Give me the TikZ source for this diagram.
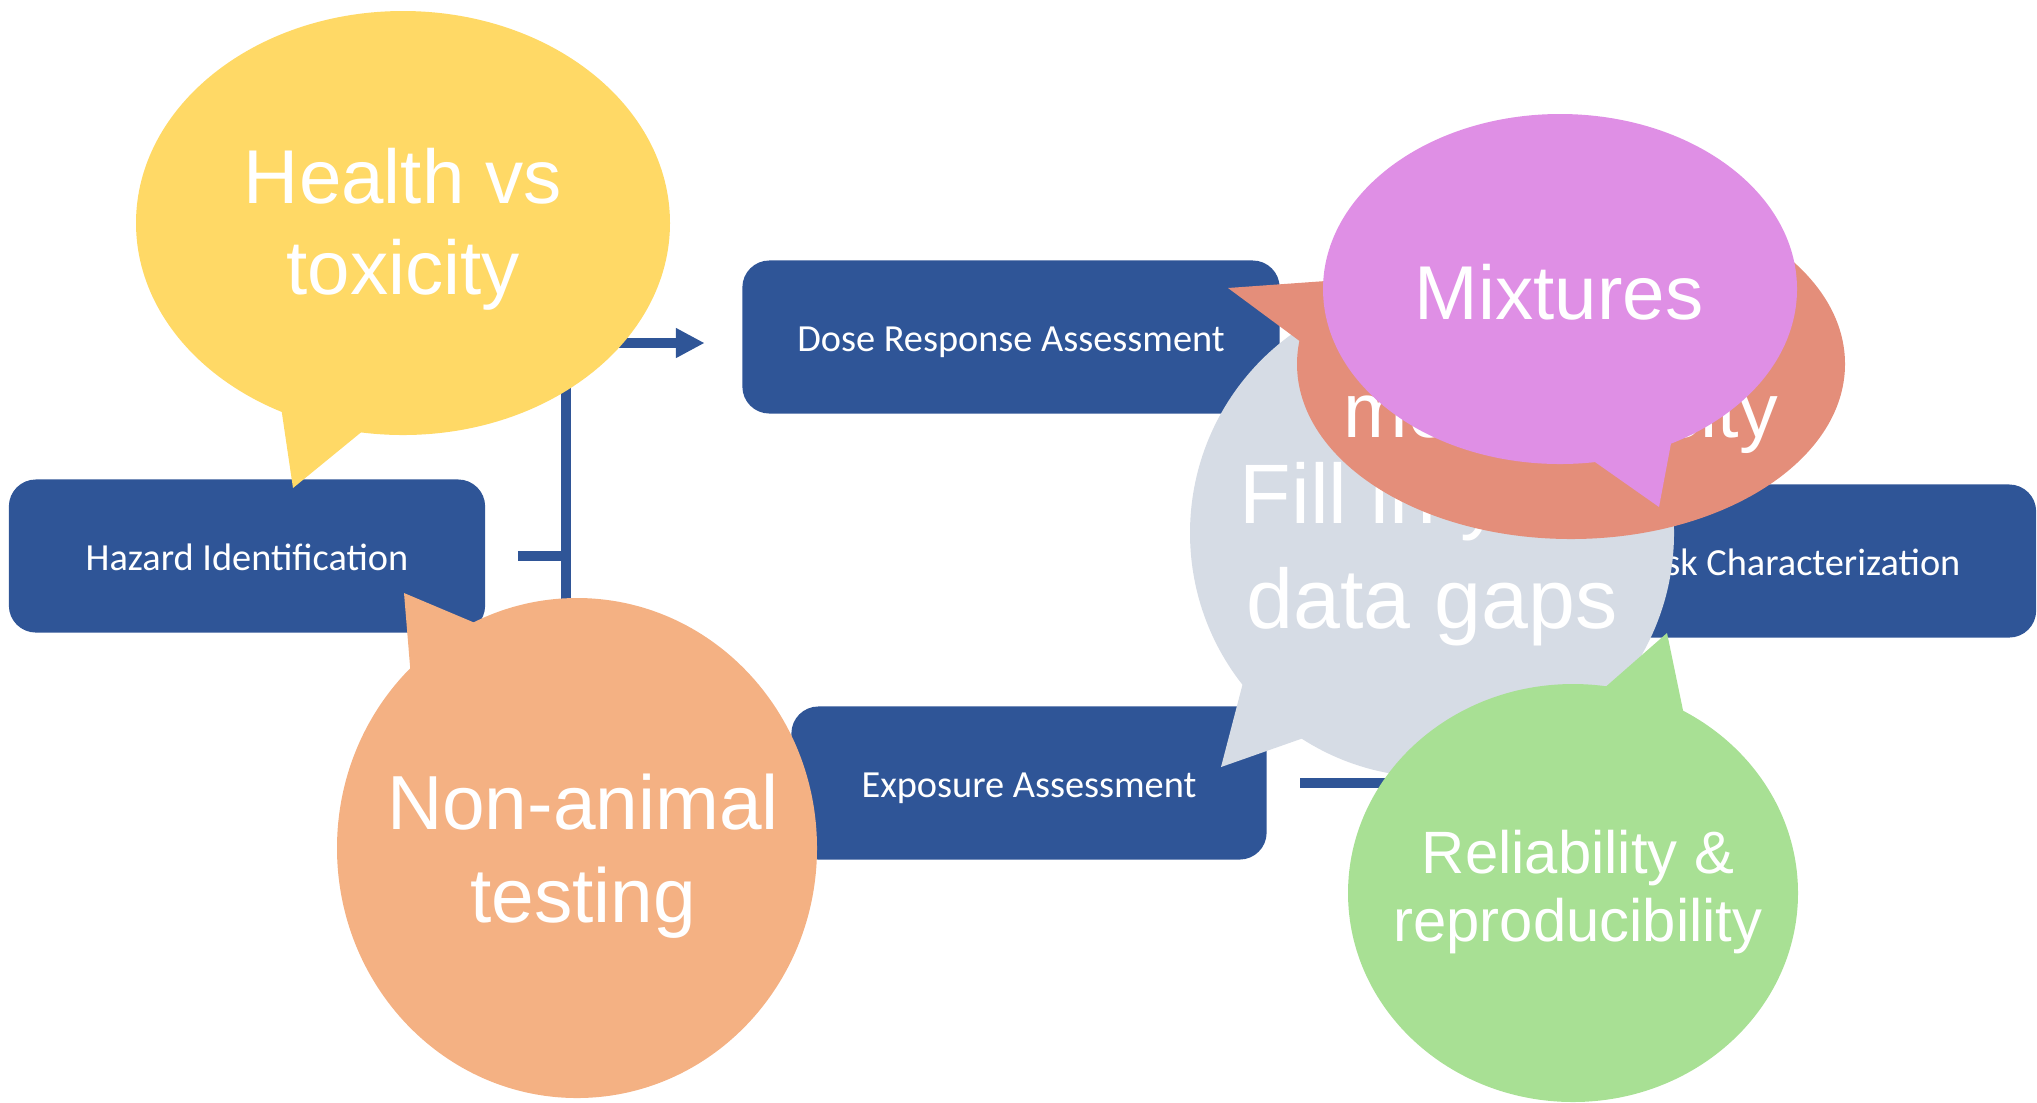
\documentclass[tikz,border=0pt]{standalone}
\usepackage{fontspec}
\setmainfont{Liberation Sans}
\newfontfamily\boxfont{Carlito}
\usepackage{tikz}
\usetikzlibrary{arrows.meta}
\definecolor{dark}{RGB}{47, 85, 151}
\definecolor{sun}{RGB}{255, 217, 102}
\definecolor{peach}{RGB}{244, 177, 131}
\definecolor{slate}{RGB}{214, 220, 229}
\definecolor{salmon}{RGB}{228, 142, 122}
\definecolor{orchid}{RGB}{223, 143, 229}
\definecolor{mint}{RGB}{168, 224, 148}

\begin{document}
\begin{tikzpicture}[x=0.01cm, y=-0.01cm,
  stage/.style={fill=dark, rounded corners=0.27cm, minimum width=4.76cm,
    minimum height=1.53cm, inner sep=0pt, text=white,
    text height=0.84em, text depth=0pt,
    font=\boxfont\fontsize{10.9}{13}\selectfont},
  link/.style={draw=dark, line width=2.6pt},
  tip/.style={-{Triangle[length=8.2pt, width=8pt]}},
  say/.style={text=white, align=center, inner sep=0pt}]
  \useasboundingbox (0, 0) rectangle (2037, 1102);

  \node [stage] (hazard) at (247, 556) {Hazard Identification};
  \node [stage, minimum width=5.37cm] (dose) at (1011, 337) {Dose Response Assessment};
  \node [stage, minimum width=4.75cm] (expo) at (1029, 783) {Exposure Assessment};
  \node [stage] (risk) at (1798, 561) {Risk Characterization};

  \coordinate (jointL) at (566, 556);
  \coordinate (jointR) at (1395, 561);

  \draw [link, shorten <=0.32cm] (hazard.east) -- (jointL);
  \draw [link, tip, shorten >=0.37cm] (jointL) |- ([yshift=-0.06cm]dose.west);
  \draw [link, tip, shorten >=0.37cm] (jointL) |- (expo.west);
  \draw [link, shorten <=0.33cm] (dose.east) -| (jointR);
  \draw [link, shorten <=0.33cm] (expo.east) -| (jointR);
  \draw [link, tip, shorten >=0.37cm] (jointR) -- (risk.west);

  \fill [sun] (403, 223) ellipse [x radius=267, y radius=212];
  \fill [sun] (280, 400) -- (293, 488) -- (370, 425) -- cycle;
  \node [say, font=\fontsize{21.7}{26}\selectfont] (health) at (403, 229) {Health vs\\toxicity};

  \fill [peach] (577, 848) ellipse [x radius=240, y radius=250];
  \fill [peach] (404, 593) -- (487, 628) -- (412, 690) -- cycle;
  \node [say, font=\fontsize{21.8}{26.5}\selectfont] (animal) at (583, 856) {Non-animal\\testing};

  \fill [slate] (1432, 533) ellipse [x radius=242, y radius=244];
  \fill [slate] (1245, 675) -- (1221, 767) -- (1312, 735) -- cycle;
  \node [say, font=\fontsize{24}{30}\selectfont] (gaps) at (1432, 554) {Fill in your\\data gaps};

  \fill [mint] (1573, 893) ellipse [x radius=225, y radius=209];
  \fill [mint] (1602, 690) -- (1667, 633) -- (1685, 720) -- cycle;
  \node [say, font=\fontsize{17}{19.6}\selectfont] (reliable) at (1578, 892) {Reliability \&\\reproducibility};

  \fill [salmon] (1571, 364) ellipse [x radius=274, y radius=175];
  \fill [salmon] (1340, 280) -- (1228, 288) -- (1305, 345) -- cycle;
  \node [say, font=\fontsize{22}{26.4}\selectfont] (mono) at (1561, 372) {Non-\\monotonicity};

  \fill [orchid] (1560, 289) ellipse [x radius=237, y radius=175];
  \fill [orchid] (1585, 455) -- (1659, 507) -- (1672, 438) -- cycle;
  \node [say, font=\fontsize{21.7}{26}\selectfont] (mix) at (1559, 292) {Mixtures};
\end{tikzpicture}
\end{document}
